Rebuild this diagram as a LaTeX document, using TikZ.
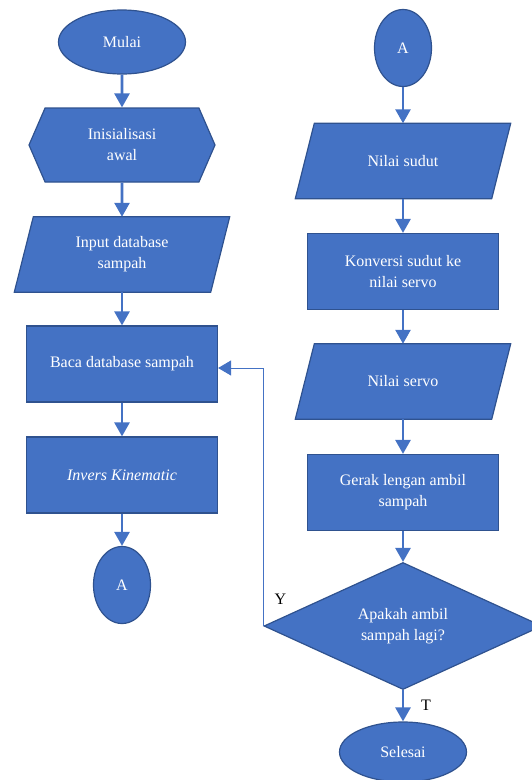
\documentclass[tikz,border=0pt]{standalone}
\usepackage{fontspec}
\setmainfont{Liberation Serif}
\usetikzlibrary{shapes.geometric,shapes.symbols,arrows.meta,backgrounds}
\definecolor{boxblue}{HTML}{4472C4}
\definecolor{edgeblue}{HTML}{2F528F}
\tikzset{
  outline/.style={draw=edgeblue, fill=boxblue, line width=1.2pt},
  base/.style={outline, text=white, align=center, inner sep=0pt, font=\fontsize{16}{21}\selectfont},
  term/.style={base, ellipse, minimum width=127pt, minimum height=64pt},
  konektor/.style={base, ellipse, minimum width=57pt, minimum height=77pt},
  proc/.style={base, rectangle, minimum width=191pt, minimum height=76pt},
  iobox/.style={rectangle, text=white, align=center, inner sep=0pt, font=\fontsize{16}{21}\selectfont, minimum width=215pt, minimum height=75pt},
  prep/.style={base, signal, signal to=west and east, signal pointer angle=133, minimum width=186pt, minimum height=74pt},
  decide/.style={base, diamond, minimum width=278pt, minimum height=127pt},
  arr/.style={boxblue, line width=2.6pt, -{Triangle[length=14pt,width=15pt]}},
  back/.style={boxblue, line width=1pt, -{Triangle[length=13pt,width=15pt]}},
  lbl/.style={font=\fontsize{16}{19}\selectfont}
}
\begin{document}
\begin{tikzpicture}[x=1pt, y=-1pt]
        \useasboundingbox (0,0) rectangle (532,780);

        % kolom kiri
        \node[term] (mulai) at (122,42) {Mulai};
        \node[prep] (init) at (122,145) {Inisialisasi\\awal};
        \node[iobox] (input) at (122,254.5) {Input database\\sampah};
        \node[proc] (baca) at (122,364) {Baca database sampah};
        \node[proc] (invers) at (122,475) {\textit{Invers Kinematic}};
        \node[konektor] (konA) at (122,585) {A};

        % kolom kanan
        \node[konektor] (konB) at (403,48) {A};
        \node[iobox] (sudut) at (403,161) {Nilai sudut};
        \node[proc] (konversi) at (403,271.5) {Konversi sudut ke\\nilai servo};
        \node[iobox] (servo) at (403,381.5) {Nilai servo};
        \node[proc] (gerak) at (403,492.5) {Gerak lengan ambil\\sampah};
        \node[decide] (tanya) at (403,626) {Apakah ambil\\sampah lagi?};
        \node[term, minimum height=60pt] (selesai) at (403,752) {Selesai};

        % jajaran genjang input/output
        \begin{scope}[on background layer]
          \foreach \n in {input,sudut,servo}
            \draw[outline] ([xshift=19pt]\n.north west) -- (\n.north east)
              -- ([xshift=-19pt]\n.south east) -- (\n.south west) -- cycle;
        \end{scope}

        \draw[arr] (mulai) -- (init);
        \draw[arr] (init) -- (input);
        \draw[arr] (input) -- (baca);
        \draw[arr] (baca) -- (invers);
        \draw[arr] (invers) -- (konA);

        \draw[arr] (konB) -- (sudut);
        \draw[arr] (sudut) -- (konversi);
        \draw[arr] (konversi) -- (servo);
        \draw[arr] (servo) -- (gerak);
        \draw[arr] (gerak) -- (tanya);
        \draw[arr] (tanya) -- (selesai);

        \draw[back] (tanya.west) |- ([yshift=-4pt]baca.east);

        \node[lbl] (ya) at ([xshift=17pt,yshift=27pt]tanya.west) {Y};
        \node[lbl] (tidak) at ([xshift=23pt,yshift=-15pt]tanya.south) {T};
    \end{tikzpicture}
\end{document}
